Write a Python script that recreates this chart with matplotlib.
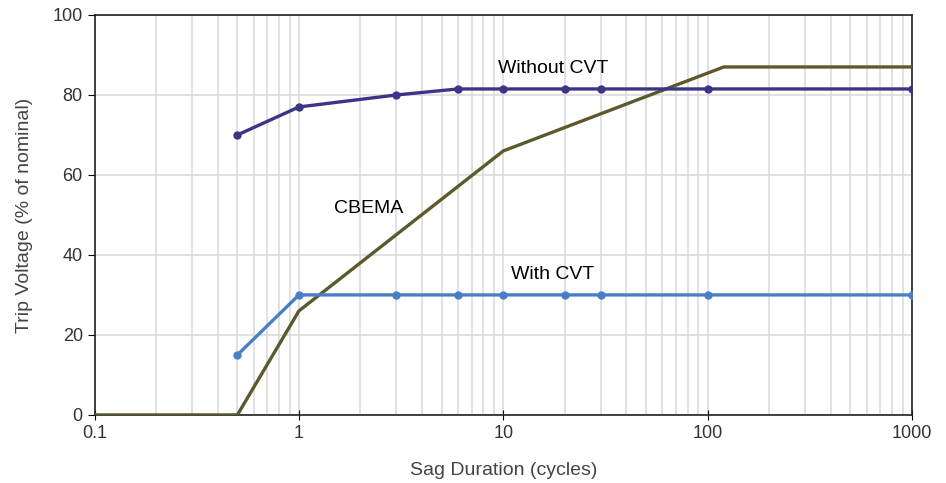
import matplotlib
matplotlib.use("Agg")
import matplotlib.pyplot as plt
from matplotlib.ticker import LogLocator, NullFormatter, FixedLocator, FixedFormatter

plt.rcParams['font.family'] = ['Liberation Sans', 'DejaVu Sans']

# Data
without_x = [0.5, 1, 3, 6, 10, 20, 30, 100, 1000]
without_y = [70, 77, 80, 81.5, 81.5, 81.5, 81.5, 81.5, 81.5]
with_x = [0.5, 1, 3, 6, 10, 20, 30, 100, 1000]
with_y = [15, 30, 30, 30, 30, 30, 30, 30, 30]
cbema_x = [0.1, 0.5, 1, 10, 120, 1000]
cbema_y = [0, 0, 26, 66, 87, 87]
x_ticks = [0.1, 1, 10, 100, 1000]
x_labels = ['0.1', '1', '10', '100', '1000']
y_ticks = [0, 20, 40, 60, 80, 100]

fig = plt.figure(figsize=(9.46, 4.83), dpi=100)
ax = fig.add_axes([0.100, 0.141, 0.864, 0.828])

ax.set_xscale('log')
ax.set_xlim(0.1, 1000)
ax.set_ylim(0, 100)

ax.plot(cbema_x, cbema_y, color='#5c5a2c', lw=2.4, zorder=3)
ax.plot(without_x, without_y, color='#3b3585', lw=2.4, marker='o', ms=5, zorder=4)
ax.plot(with_x, with_y, color='#4a7fc8', lw=2.4, marker='o', ms=5, zorder=4)

ax.xaxis.set_major_locator(FixedLocator(x_ticks))
ax.xaxis.set_major_formatter(FixedFormatter(x_labels))
ax.xaxis.set_minor_locator(LogLocator(base=10, subs=range(2, 10)))
ax.xaxis.set_minor_formatter(NullFormatter())
ax.set_yticks(y_ticks)

ax.grid(True, which='both', axis='x', color='#dcdcdc', lw=1.2)
ax.grid(True, which='major', axis='y', color='#dcdcdc', lw=1.2)
ax.set_axisbelow(True)

for s in ax.spines.values():
    s.set_color('#222222')
    s.set_linewidth(1.2)

ax.tick_params(axis='x', which='major', direction='inout', length=7, labelsize=13, pad=4, labelcolor='#333333')
ax.tick_params(axis='x', which='minor', length=0)
ax.tick_params(axis='y', direction='out', length=5, labelsize=13, labelcolor='#333333')

ax.set_xlabel('Sag Duration (cycles)', fontsize=14, color='#444444', labelpad=14)
ax.set_ylabel('Trip Voltage (% of nominal)', fontsize=14, color='#444444', labelpad=14)

ax.text(17.5, 86.5, 'Without CVT', fontsize=14, ha='center', va='center')
ax.text(2.2, 51.5, 'CBEMA', fontsize=14, ha='center', va='center')
ax.text(17.5, 35, 'With CVT', fontsize=14, ha='center', va='center')

fig.savefig('out.png', dpi=100)
